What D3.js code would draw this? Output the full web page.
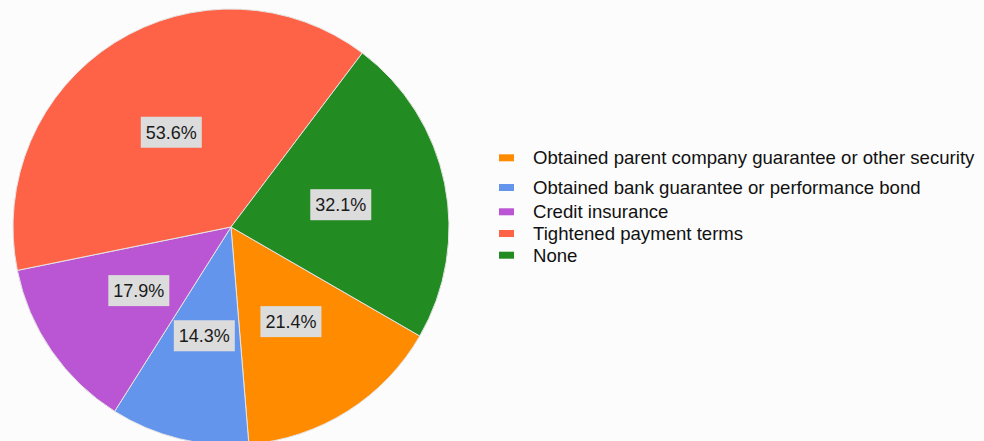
<!DOCTYPE html>
<html>
<head>
<meta charset="utf-8">
<script src="https://cdn.jsdelivr.net/npm/d3@7"></script>
<style>
  html, body { margin: 0; padding: 0; background: #fcfcfc; }
  svg { display: block; }
  text { font-family: "Liberation Sans", Arial, Helvetica, sans-serif; }
</style>
</head>
<body>
<svg id="chart" width="984" height="441"></svg>
<script>
// Responses (multiple answers allowed, so shares exceed 100%)
const categories = [
  "Obtained parent company guarantee or other security",
  "Obtained bank guarantee or performance bond",
  "Credit insurance",
  "Tightened payment terms",
  "None"
];
const values = [21.4, 14.3, 17.9, 53.6, 32.1];
const colors = ["#ff8c00", "#6495ed", "#ba55d3", "#ff6347", "#228b22"];

// Legend row baselines (irregular spacing as laid out)
const legendBaselines = [164.3, 194, 218.3, 240, 261.7];

const W = 984, H = 441;
const cx = 231, cy = 227, R = 218;
const labelR = 112;

const svg = d3.select("#chart");
const data = categories.map((c, i) => ({ name: c, value: values[i], color: colors[i] }));

const pie = d3.pie()
  .sort(null)
  .value(d => d.value)
  .startAngle(120 * Math.PI / 180)
  .endAngle(120 * Math.PI / 180 + 2 * Math.PI);

const arcs = pie(data);
const arc = d3.arc().innerRadius(0).outerRadius(R);
const labelArc = d3.arc().innerRadius(labelR).outerRadius(labelR);

const g = svg.append("g").attr("transform", `translate(${cx},${cy})`);

g.selectAll("path.slice")
  .data(arcs)
  .join("path")
  .attr("class", "slice")
  .attr("d", arc)
  .attr("fill", d => d.data.color)
  .attr("stroke", "#e4e4e4")
  .attr("stroke-width", 1);

// Percentage labels on grey boxes
const fmt = v => v.toFixed(1) + "%";
const labels = g.selectAll("g.lbl")
  .data(arcs)
  .join("g")
  .attr("class", "lbl")
  .attr("transform", d => {
    const [x, y] = labelArc.centroid(d);
    return `translate(${x},${y})`;
  });

labels.append("rect")
  .attr("x", -30.5)
  .attr("y", -15.5)
  .attr("width", 61)
  .attr("height", 31)
  .attr("fill", "#dcdcdc");

labels.append("text")
  .attr("text-anchor", "middle")
  .attr("dy", "0.35em")
  .attr("font-size", 18)
  .attr("fill", "#1a1a1a")
  .text(d => fmt(d.data.value));

// Legend
const legend = svg.append("g").attr("class", "legend");
const rows = legend.selectAll("g")
  .data(data)
  .join("g")
  .attr("transform", (d, i) => `translate(0,${legendBaselines[i]})`);

rows.append("rect")
  .attr("x", 499)
  .attr("y", -10)
  .attr("width", 15)
  .attr("height", 7)
  .attr("fill", d => d.color);

rows.append("text")
  .attr("x", 533)
  .attr("y", 0)
  .attr("font-size", 18.6)
  .attr("fill", "#111")
  .text(d => d.name);
</script>
</body>
</html>
